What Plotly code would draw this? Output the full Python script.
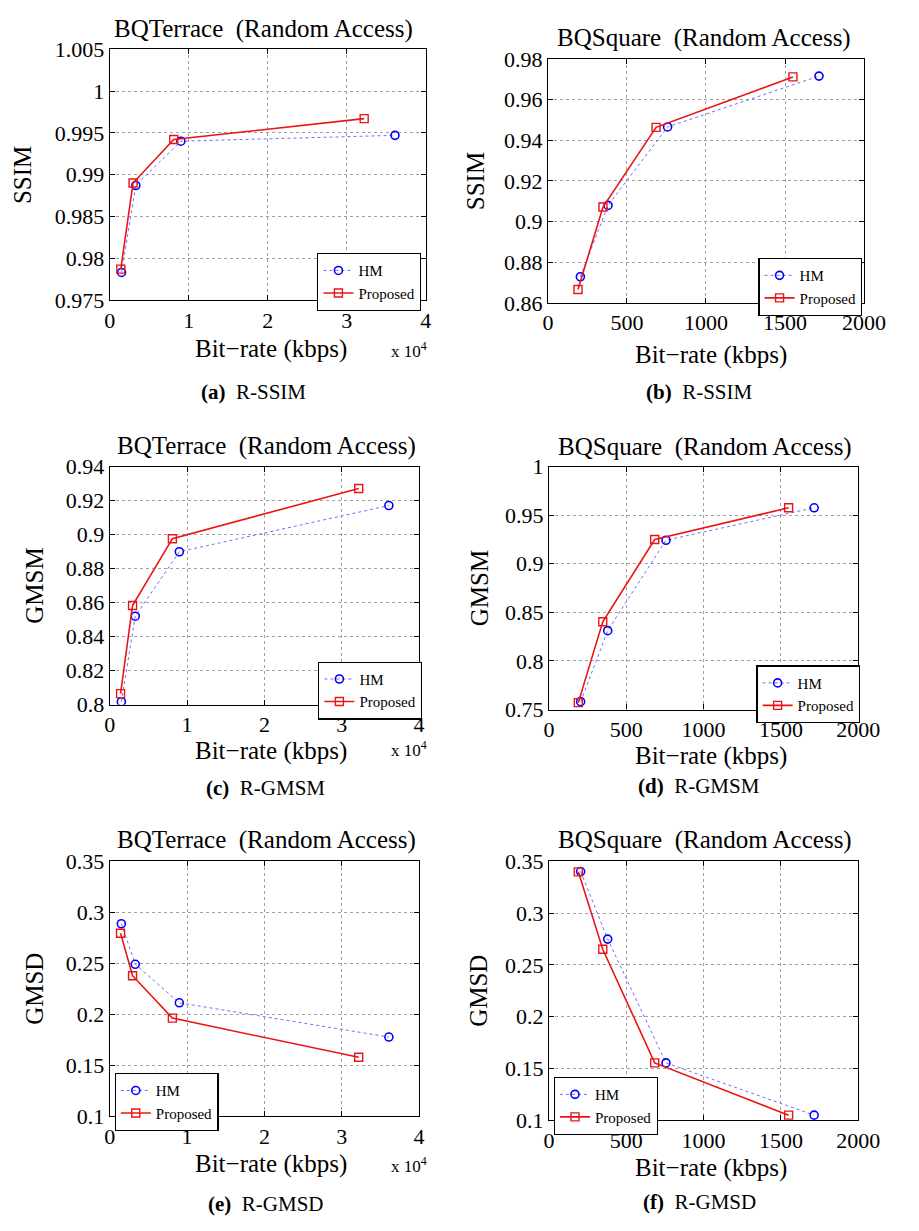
import plotly.graph_objects as go

W, H = 919, 1231

# ---------------- data ----------------
terrace_hm_rate = [1500, 3300, 9000, 36100]
terrace_prop_rate = [1400, 2950, 8100, 32200]
square_hm_rate = [205, 380, 757, 1715]
square_prop_rate = [190, 348, 684, 1550]

ssim_terrace_hm = [0.9783, 0.9887, 0.9940, 0.9947]
ssim_terrace_prop = [0.9787, 0.9890, 0.9942, 0.9967]
ssim_square_hm = [0.8729, 0.9080, 0.9466, 0.9716]
ssim_square_prop = [0.8666, 0.9072, 0.9464, 0.9712]

gmsm_terrace_hm = [0.8017, 0.8520, 0.8899, 0.9171]
gmsm_terrace_prop = [0.8065, 0.8583, 0.8976, 0.9271]
gmsm_square_hm = [0.7581, 0.8312, 0.9242, 0.9576]
gmsm_square_prop = [0.7571, 0.8403, 0.9249, 0.9576]

gmsd_terrace_hm = [0.2888, 0.2490, 0.2112, 0.1776]
gmsd_terrace_prop = [0.2795, 0.2378, 0.1962, 0.1577]
gmsd_square_hm = [0.3402, 0.2749, 0.1552, 0.1047]
gmsd_square_prop = [0.3399, 0.2651, 0.1552, 0.1047]

terrace_xticks = [0, 10000, 20000, 30000, 40000]
terrace_xticktext = ["0", "1", "2", "3", "4"]
square_xticks = [0, 500, 1000, 1500, 2000]

ssim_terrace_yticks = [0.975, 0.98, 0.985, 0.99, 0.995, 1.0, 1.005]
ssim_terrace_yticktext = ["0.975", "0.98", "0.985", "0.99", "0.995", "1", "1.005"]
ssim_square_yticks = [0.86, 0.88, 0.90, 0.92, 0.94, 0.96, 0.98]
ssim_square_yticktext = ["0.86", "0.88", "0.9", "0.92", "0.94", "0.96", "0.98"]
gmsm_terrace_yticks = [0.80, 0.82, 0.84, 0.86, 0.88, 0.90, 0.92, 0.94]
gmsm_terrace_yticktext = ["0.8", "0.82", "0.84", "0.86", "0.88", "0.9", "0.92", "0.94"]
gmsm_square_yticks = [0.75, 0.80, 0.85, 0.90, 0.95, 1.0]
gmsm_square_yticktext = ["0.75", "0.8", "0.85", "0.9", "0.95", "1"]
gmsd_yticks = [0.10, 0.15, 0.20, 0.25, 0.30, 0.35]
gmsd_yticktext = ["0.1", "0.15", "0.2", "0.25", "0.3", "0.35"]

titles = ["BQTerrace  (Random Access)", "BQSquare  (Random Access)"] * 3
ylabels = ["SSIM", "SSIM", "GMSM", "GMSM", "GMSD", "GMSD"]
xlabel = "Bit\u2212rate (kbps)"
captions = [("(a)", "R-SSIM"), ("(b)", "R-SSIM"), ("(c)", "R-GMSM"),
            ("(d)", "R-GMSM"), ("(e)", "R-GMSD"), ("(f)", "R-GMSD")]
series_names = ["HM", "Proposed"]

# ---------------- layout helpers ----------------
FONT = "Liberation Serif, Times New Roman, serif"

def px(x):
    return x / W

def py(y):
    return 1 - y / H

# plot boxes in pixels: left, right, top, bottom
boxes = [
    (107, 433, 38, 294),
    (559, 885, 48, 297),
    (107, 426, 464, 707),
    (560, 879, 464, 712),
    (107, 426, 867, 1127),
    (560, 879, 867, 1131),
]
title_pos = [(266, 17), (720, 27), (269, 443), (721, 444), (269, 845), (721, 845)]
xlabel_pos = [(273, 344), (727, 350), (273, 754), (727, 759), (273, 1176), (727, 1180)]
ylabel_x = [17, 485, 30, 488, 30, 488]
caption_pos = [(255, 388), (715, 388), (268, 792), (715, 790), (268, 1217), (715, 1215)]
legend_pos = [(321, 246), (776, 251), (322, 663), (774, 667), (112, 1083), (565, 1087)]
exp_pos = [(416, 345), None, (416, 752), None, (416, 1177), None]

panels = [
    (terrace_hm_rate, ssim_terrace_hm, terrace_prop_rate, ssim_terrace_prop,
     [0, 40000], terrace_xticks, terrace_xticktext, [0.975, 1.005], ssim_terrace_yticks, ssim_terrace_yticktext),
    (square_hm_rate, ssim_square_hm, square_prop_rate, ssim_square_prop,
     [0, 2000], square_xticks, [str(v) for v in square_xticks], [0.86, 0.98], ssim_square_yticks, ssim_square_yticktext),
    (terrace_hm_rate, gmsm_terrace_hm, terrace_prop_rate, gmsm_terrace_prop,
     [0, 40000], terrace_xticks, terrace_xticktext, [0.80, 0.94], gmsm_terrace_yticks, gmsm_terrace_yticktext),
    (square_hm_rate, gmsm_square_hm, square_prop_rate, gmsm_square_prop,
     [0, 2000], square_xticks, [str(v) for v in square_xticks], [0.75, 1.0], gmsm_square_yticks, gmsm_square_yticktext),
    (terrace_hm_rate, gmsd_terrace_hm, terrace_prop_rate, gmsd_terrace_prop,
     [0, 40000], terrace_xticks, terrace_xticktext, [0.10, 0.35], gmsd_yticks, gmsd_yticktext),
    (square_hm_rate, gmsd_square_hm, square_prop_rate, gmsd_square_prop,
     [0, 2000], square_xticks, [str(v) for v in square_xticks], [0.10, 0.35], gmsd_yticks, gmsd_yticktext),
]

fig = go.Figure()
annotations = []
layout = dict(
    width=W, height=H,
    margin=dict(l=0, r=0, t=0, b=0),
    paper_bgcolor="white", plot_bgcolor="white",
    font=dict(family=FONT, color="black", size=18),
    showlegend=True,
)

for i, (hx, hy, prx, pry, xr, xt, xtt, yr, yt, ytt) in enumerate(panels):
    k = "" if i == 0 else str(i + 1)
    l, r, t, b = boxes[i]
    legend_name = "legend" + k
    fig.add_trace(go.Scatter(
        x=hx, y=hy, name=series_names[0], mode="lines+markers",
        line=dict(color="rgb(110,110,255)", width=1, dash="dot"),
        marker=dict(symbol="circle-open", size=8, color="blue", line=dict(width=1.6, color="blue")),
        xaxis="x" + k, yaxis="y" + k, legend=legend_name,
    ))
    fig.add_trace(go.Scatter(
        x=prx, y=pry, name=series_names[1], mode="lines+markers",
        line=dict(color="rgb(235,20,20)", width=1.6),
        marker=dict(symbol="square-open", size=8, color="rgb(235,20,20)", line=dict(width=1.4, color="rgb(235,20,20)")),
        xaxis="x" + k, yaxis="y" + k, legend=legend_name,
    ))
    axis_common = dict(
        showline=True, linecolor="black", linewidth=1.2, mirror="ticks",
        ticks="inside", ticklen=5, tickcolor="black",
        showgrid=True, gridcolor="rgb(160,160,160)", griddash="dot", gridwidth=1,
        zeroline=False, tickfont=dict(family=FONT, size=22, color="black"),
    )
    layout["xaxis" + k] = dict(axis_common, domain=[px(l), px(r)], range=xr,
                               tickvals=xt, ticktext=xtt, anchor="y" + k)
    layout["yaxis" + k] = dict(axis_common, domain=[py(b), py(t)], range=yr,
                               tickvals=yt, ticktext=ytt, anchor="x" + k)
    lx, ly = legend_pos[i]
    layout[legend_name] = dict(
        x=px(lx), y=py(ly), xanchor="left", yanchor="top",
        bgcolor="white", bordercolor="black", borderwidth=1.2,
        font=dict(family=FONT, size=15, color="black"),
        tracegroupgap=0, itemwidth=30,
    )
    tx, ty = title_pos[i]
    annotations.append(dict(text=titles[i], x=px(tx), y=py(ty), xref="paper", yref="paper",
                            showarrow=False, xanchor="center", yanchor="middle",
                            font=dict(family=FONT, size=25, color="black")))
    bx, by = xlabel_pos[i]
    annotations.append(dict(text=xlabel, x=px(bx), y=py(by), xref="paper", yref="paper",
                            showarrow=False, xanchor="center", yanchor="middle",
                            font=dict(family=FONT, size=25, color="black")))
    annotations.append(dict(text=ylabels[i], x=px(ylabel_x[i]), y=py((t + b) / 2), xref="paper", yref="paper",
                            showarrow=False, xanchor="center", yanchor="middle", textangle=-90,
                            font=dict(family=FONT, size=25, color="black")))
    cx, cy = caption_pos[i]
    annotations.append(dict(text="<b>" + captions[i][0] + "</b>&nbsp;&nbsp;" + captions[i][1],
                            x=px(cx), y=py(cy), xref="paper", yref="paper",
                            showarrow=False, xanchor="center", yanchor="middle",
                            font=dict(family=FONT, size=21, color="black")))
    if exp_pos[i] is not None:
        ex, ey = exp_pos[i]
        annotations.append(dict(text="x 10<sup>4</sup>", x=px(ex), y=py(ey), xref="paper", yref="paper",
                                showarrow=False, xanchor="center", yanchor="middle",
                                font=dict(family=FONT, size=17, color="black")))

layout["annotations"] = annotations
fig.update_layout(**layout)
fig.write_html("out.html", config={"displayModeBar": False},
               post_script="document.body.style.margin='0';document.body.style.overflow='hidden';")
